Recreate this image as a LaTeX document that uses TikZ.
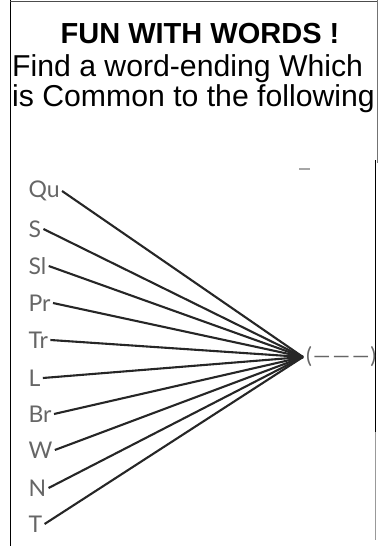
\documentclass[tikz,border=0pt]{standalone}
\usepackage{fontspec}
\setmainfont{Liberation Sans}
\newfontfamily\lblfont{Lato}
\begin{document}
\begin{tikzpicture}[x=1pt,y=-1pt,
  headtxt/.style={font=\fontsize{29}{32}\selectfont\bfseries, inner sep=0pt, anchor=base},
  bodytxt/.style={font=\fontsize{30.2}{32}\selectfont, inner sep=0pt, anchor=base west},
  lbl/.style={font=\lblfont\fontsize{23}{26}\selectfont, text=black!60, inner sep=0pt, outer sep=2.5pt, anchor=west},
  fanline/.style={draw=black!85, line width=2.1pt},
  frameline/.style={line width=1.4pt}]
\useasboundingbox (0,0) rectangle (384,546);
% frame
\draw[frameline, black] (10.5,0) -- (10.5,546);
\draw[line width=1pt, black!70] (10,1.5) -- (378,1.5);
\draw[frameline, black!55] (377.3,0) -- (377.3,163);
\draw[frameline, black] (375.6,160) -- (375.6,432);
\draw[frameline, black!40] (375.6,432) -- (375.6,540);
% texts
\node[headtxt] (title) at (200,43) {FUN WITH WORDS !};
\node[bodytxt] (l2) at (12,76) {Find a word-ending Which};
\node[bodytxt] (l3) at (12,106) {is Common to the following};
% stray mark
\draw[line width=1.8pt, black!35] (299,169) -- (310,169);
% fan
\coordinate (tip) at (303,357);
\node[lbl] (qu) at (26,191) {Qu};
\node[lbl] (s)  at (26,229) {S};
\node[lbl] (sl) at (26,266) {Sl};
\node[lbl] (pr) at (26,303) {Pr};
\node[lbl] (tr) at (26,340) {Tr};
\node[lbl] (l)  at (26,378) {L};
\node[lbl] (br) at (26,414) {Br};
\node[lbl] (w)  at (26,450) {W};
\node[lbl] (n)  at (26,488) {N};
\node[lbl] (t)  at (26,524) {T};
\foreach \a in {qu,s,sl,pr,tr,l,br,w,n,t}
  \draw[fanline] (\a.east) -- (tip);
\node[font=\lblfont\fontsize{22}{24}\selectfont, text=black!60, inner sep=0pt, anchor=west] (ans) at (306,357) {(\kern1pt—\kern2pt—\kern2pt—\kern1pt)};
\end{tikzpicture}
\end{document}
